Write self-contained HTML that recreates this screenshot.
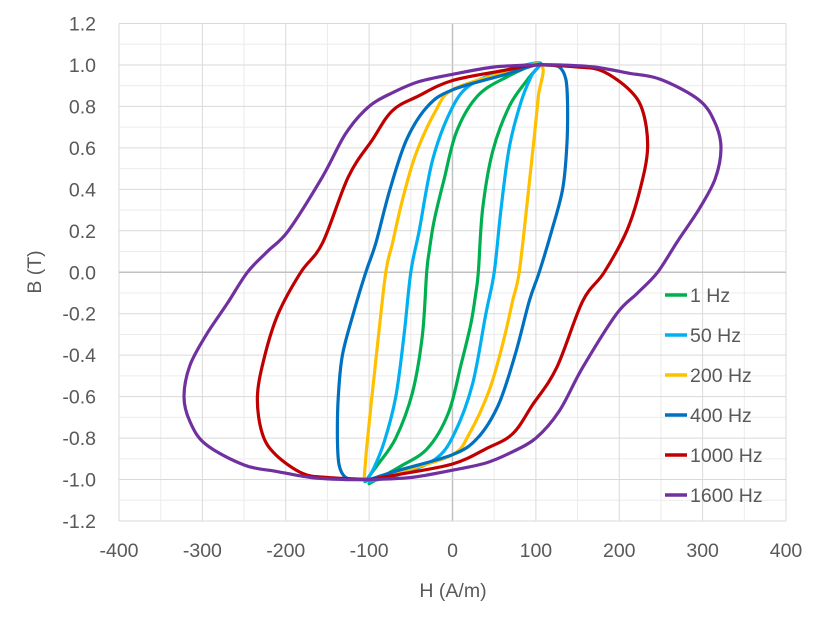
<!DOCTYPE html>
<html><head><meta charset="utf-8"><style>
html,body{margin:0;padding:0;background:#fff;}
svg{display:block;font-family:"Liberation Sans",sans-serif;}
</style></head><body>
<svg id="s" width="831" height="625" xmlns="http://www.w3.org/2000/svg">
<g id="grid"></g>
<g id="curves"></g>
<g id="labels" fill="#595959" font-size="19.5"></g>
</svg>
<script>
const NS="http://www.w3.org/2000/svg";
const X0=119,X1=786,Y0=23.5,Y1=521;
const sx=h=>X0+(h+400)/800*(X1-X0);
const sy=b=>Y0+(1.2-b)/2.4*(Y1-Y0);
function el(t,a,p){const e=document.createElementNS(NS,t);for(const k in a)e.setAttribute(k,a[k]);document.getElementById(p).appendChild(e);return e;}
for(let h=-350;h<400;h+=100)el('line',{x1:sx(h),x2:sx(h),y1:Y0,y2:Y1,stroke:'#ececec','stroke-width':1},'grid');
for(let b=-1.1;b<1.2;b+=0.2)el('line',{x1:X0,x2:X1,y1:sy(b),y2:sy(b),stroke:'#ececec','stroke-width':1},'grid');
for(let h=-400;h<=400;h+=100)el('line',{x1:sx(h),x2:sx(h),y1:Y0,y2:Y1,stroke:h==0?'#c0c0c0':'#d9d9d9','stroke-width':h==0?1.5:1},'grid');
for(let i=-6;i<=6;i++){const b=i*0.2;el('line',{x1:X0,x2:X1,y1:sy(b),y2:sy(b),stroke:i==0?'#c0c0c0':'#d9d9d9','stroke-width':i==0?1.5:1},'grid');}
for(let h=-400;h<=400;h+=100){const t=el('text',{x:sx(h),y:557,'text-anchor':'middle'},'labels');t.textContent=h;}
for(let i=-6;i<=6;i++){const b=i*0.2;const t=el('text',{x:96,y:sy(b)+7,'text-anchor':'end'},'labels');t.textContent=(b<-1e-9?'-':'')+Math.abs(b).toFixed(1);}
let t=el('text',{x:453,y:597,'text-anchor':'middle'},'labels');t.textContent='H (A/m)';
t=el('text',{x:0,y:0,'text-anchor':'middle',transform:'translate(41,272) rotate(-90)'},'labels');t.textContent='B (T)';
const series=[
['#00b050','1 Hz',[[-100,-1.02],[-64,-0.94],[-30,-0.85],[-5,-0.68],[10,-0.45],[22,-0.25],[28,-0.1],[31,0.0],[36,0.3],[48,0.58],[68,0.8],[90,0.93],[105,1.01]]],
['#00b0f0','50 Hz',[[-100,-1.01],[-60,-0.97],[-20,-0.9],[2,-0.78],[24,-0.54],[40,-0.2],[50,0.0],[58,0.3],[68,0.6],[82,0.82],[95,0.95],[104,1.01]]],
['#ffc000','200 Hz',[[-100,-1],[-60,-0.96],[0,-0.88],[20,-0.78],[44,-0.57],[60,-0.35],[72,-0.14],[80,0],[90,0.35],[98,0.65],[103,0.85],[106,1.0]]],
['#0070c0','400 Hz',[[-100,-1],[-64,-0.955],[0,-0.88],[30,-0.8],[55,-0.64],[75,-0.4],[92,-0.14],[104,0.0],[119,0.2],[132,0.4],[137,0.6],[138,0.8],[136,0.93],[128,0.99],[112,1.0],[100,1.0]]],
['#c00000','1000 Hz',[[-100,-1.0],[-64,-0.975],[0,-0.925],[41,-0.85],[72,-0.78],[96,-0.64],[125,-0.46],[156,-0.14],[182,0.0],[209,0.2],[225,0.4],[234,0.6],[228,0.78],[212,0.88],[180,0.97],[150,0.99],[100,1.0]]],
['#7030a0','1600 Hz',[[-100,-1.0],[-50,-0.99],[0,-0.955],[40,-0.92],[70,-0.87],[100,-0.80],[128,-0.67],[156,-0.46],[197,-0.2],[222,-0.1],[246,0.0],[270,0.15],[295,0.3],[315,0.45],[322,0.6],[315,0.72],[296,0.83],[250,0.93],[212,0.96],[170,0.99],[130,1.0],[100,1.0]]]
];
function path(pts){
  const p=pts.map(q=>[sx(q[0]),sy(q[1])]);const n=p.length;
  let d='M'+p[0][0].toFixed(1)+','+p[0][1].toFixed(1);
  for(let i=0;i<n-1;i++){
    const p0=p[i-1]||p[i],p1=p[i],p2=p[i+1],p3=p[i+2]||p2;
    const c1=[p1[0]+(p2[0]-p0[0])/6,p1[1]+(p2[1]-p0[1])/6];
    const c2=[p2[0]-(p3[0]-p1[0])/6,p2[1]-(p3[1]-p1[1])/6];
    d+=`C${c1[0].toFixed(1)},${c1[1].toFixed(1)} ${c2[0].toFixed(1)},${c2[1].toFixed(1)} ${p2[0].toFixed(1)},${p2[1].toFixed(1)}`;
  }
  return d;
}
series.forEach((s,i)=>{
  const asc=s[2];const desc=asc.map(q=>[-q[0],-q[1]]);
  const loop=asc.concat(desc.slice(1));
  el('path',{d:path(loop),fill:'none',stroke:s[0],'stroke-width':3.2,'stroke-linejoin':'round','stroke-linecap':'round'},'curves');
  const y=295+i*40;
  el('line',{x1:665,x2:687,y1:y,y2:y,stroke:s[0],'stroke-width':3.5},'labels');
  const tt=el('text',{x:690,y:y+7},'labels');tt.textContent=s[1];
});
</script>
</body></html>
